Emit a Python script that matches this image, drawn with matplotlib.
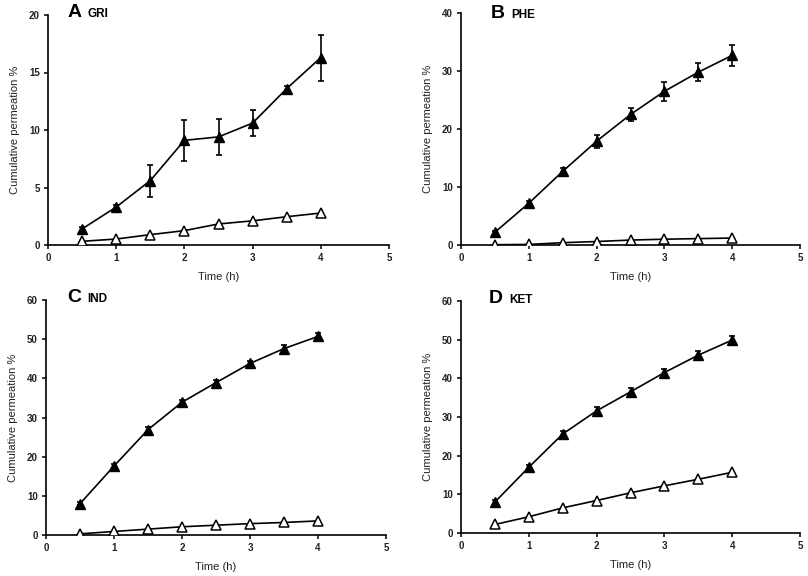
import matplotlib
matplotlib.use("Agg")
import matplotlib.pyplot as plt

plt.rcParams['font.family'] = ['Liberation Sans', 'DejaVu Sans']

time_h = [0.5, 1.0, 1.5, 2.0, 2.5, 3.0, 3.5, 4.0]

gri_filled = [1.4, 3.3, 5.6, 9.1, 9.4, 10.6, 13.6, 16.3]
gri_filled_err = [0.2, 0.2, 1.4, 1.8, 1.6, 1.1, 0.2, 2.0]
gri_open = [0.32, 0.52, 0.9, 1.25, 1.83, 2.1, 2.46, 2.78]

phe_filled = [2.2, 7.2, 12.7, 17.9, 22.5, 26.5, 29.8, 32.7]
phe_filled_err = [0.3, 0.4, 0.5, 1.1, 1.2, 1.6, 1.6, 1.8]
phe_open = [0.05, 0.1, 0.4, 0.6, 0.85, 1.0, 1.1, 1.2]

ind_filled = [8.0, 17.6, 26.9, 33.9, 38.9, 43.8, 47.6, 50.7]
ind_filled_err = [0.4, 0.5, 0.6, 0.6, 0.7, 0.7, 0.8, 1.0]
ind_open = [0.3, 0.9, 1.5, 2.1, 2.5, 2.9, 3.2, 3.6]

ket_filled = [8.0, 17.0, 25.6, 31.6, 36.5, 41.5, 46.0, 49.9]
ket_filled_err = [0.5, 0.6, 0.8, 1.0, 0.9, 1.0, 1.1, 1.1]
ket_open = [2.2, 4.2, 6.5, 8.4, 10.4, 12.2, 13.9, 15.7]

panel_letters = ['A', 'B', 'C', 'D']
panel_names = ['GRI', 'PHE', 'IND', 'KET']
y_max = [20, 40, 60, 60]
y_step = [5, 10, 10, 10]
x_ticks = [0, 1, 2, 3, 4, 5]

filled_sets = [gri_filled, phe_filled, ind_filled, ket_filled]
err_sets = [gri_filled_err, phe_filled_err, ind_filled_err, ket_filled_err]
open_sets = [gri_open, phe_open, ind_open, ket_open]

fig = plt.figure(figsize=(8.08, 5.76), dpi=100)
W, H = 808.0, 576.0
# axes rectangles in pixels: (x0, x1, ytop, ybottom)
rects = [(48, 389, 15, 245), (461, 800, 13, 245), (46, 386, 300, 535), (461, 800, 301, 533)]
letter_pos = [(0.056, 0.991), (0.088, 0.978), (0.062, 0.991), (0.083, 0.991)]
name_pos = [0.117, 0.147, 0.121, 0.142]

for i in range(4):
    x0, x1, yt, yb = rects[i]
    ax = fig.add_axes([x0 / W, 1 - yb / H, (x1 - x0) / W, (yb - yt) / H])
    ax.plot(time_h, open_sets[i], color='black', lw=1.2, marker='^', ms=7,
            mfc='white', mec='black', mew=1.1, zorder=3)
    ax.errorbar(time_h, filled_sets[i], yerr=err_sets[i], color='black', lw=1.2,
                marker='^', ms=7.2, mfc='black', mec='black', elinewidth=1.2,
                capsize=2.5, capthick=1.2, zorder=4)
    ax.set_xlim(0, 5)
    ax.set_ylim(0, y_max[i])
    ax.set_xticks(x_ticks)
    ax.set_yticks(list(range(0, y_max[i] + 1, y_step[i])))
    ax.spines['top'].set_visible(False)
    ax.spines['right'].set_visible(False)
    for s in ['left', 'bottom']:
        ax.spines[s].set_linewidth(1.2)
    ax.tick_params(direction='out', length=3, width=1.1, labelsize=7, pad=3)
    for lab in ax.get_xticklabels() + ax.get_yticklabels():
        lab.set_fontweight('bold')
        lab.set_color('#222222')
    ax.set_xlabel('Time (h)', fontsize=8, labelpad=6, color='#222222')
    ax.set_ylabel('Cumulative permeation %', fontsize=8, labelpad=6, color='#222222')
    lx, ly = letter_pos[i]
    ax.text(lx, ly, panel_letters[i], transform=ax.transAxes, fontsize=14,
            fontweight='bold', va='baseline', ha='left')
    ax.text(name_pos[i], ly, panel_names[i], transform=ax.transAxes, fontsize=8.5,
            fontweight='bold', va='baseline', ha='left')

fig.savefig('out.png', dpi=100)
